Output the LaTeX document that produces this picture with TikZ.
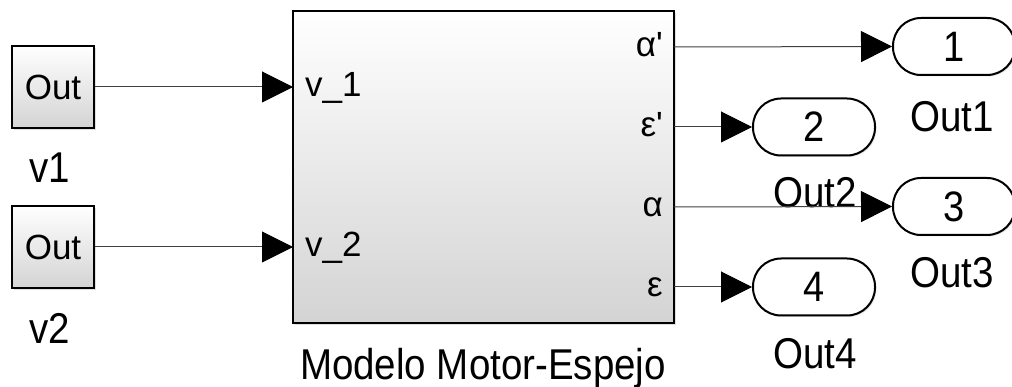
\documentclass[tikz,border=0pt]{standalone}
\usepackage{fontspec}
\setmainfont{Liberation Sans}
\usetikzlibrary{arrows.meta,shadows}
\newcommand{\vst}[1]{\scalebox{1}[1.12]{#1}}
\begin{document}
\begin{tikzpicture}[x=1pt,y=-1pt,
  blk/.style={draw=black,line width=2pt,top color=white,bottom color=black!17,inner sep=0pt,
    drop shadow={opacity=0.25,shadow xshift=2pt,shadow yshift=-2pt}},
  capblk/.style={draw=black,line width=2pt,fill=white,rounded corners=28pt,minimum width=122pt,minimum height=57pt,inner sep=0pt,
    font=\fontsize{38}{44}\selectfont,
    drop shadow={opacity=0.2,shadow xshift=1.5pt,shadow yshift=-1.5pt}},
  lbl/.style={inner sep=0pt,font=\fontsize{38.5}{44}\selectfont},
  plbl/.style={inner sep=0pt,font=\fontsize{35}{40}\selectfont},
  sig/.style={draw=black!75,line width=1pt,-{Triangle[length=31pt,width=31pt,color=black]}},
  ]
\useasboundingbox (0,0) rectangle (1012,387);
\clip (0,0) rectangle (1012,387);
% sources
\node[blk,minimum width=82pt,minimum height=82pt,font=\fontsize{35}{40}\selectfont] (s1) at (53,87) {Out};
\node[blk,minimum width=82pt,minimum height=82pt,font=\fontsize{35}{40}\selectfont] (s2) at (53,247) {Out};
\node[lbl,anchor=base] (ls1) at (50,183) {\vst{v1}};
\node[lbl,anchor=base] (ls2) at (50,343) {\vst{v2}};
% main block
\node[blk,minimum width=381pt,minimum height=312pt] (m) at (483.5,167) {};
\node[lbl,anchor=base] (lm) at (483,379) {\vst{Modelo Motor-Espejo}};
\coordinate (mi1) at (293,87);
\coordinate (mi2) at (293,247);
\coordinate (mo1) at (674,47);
\coordinate (mo2) at (674,127);
\coordinate (mo3) at (674,207);
\coordinate (mo4) at (674,287);
\node[plbl,anchor=base west] (pi1) at (305,97) {v\_1};
\node[plbl,anchor=base west] (pi2) at (305,257) {v\_2};
\node[plbl,anchor=base east] (po1) at (663,57) {α\textquotesingle};
\node[plbl,anchor=base east] (po2) at (663,137) {ε\textquotesingle};
\node[plbl,anchor=base east] (po3) at (663,217) {α};
\node[plbl,anchor=base east] (po4) at (663,297) {ε};
% outports
\node[capblk] (o1) at (954,46.5) {\vst{1}};
\node[capblk] (o2) at (814,127) {\vst{2}};
\node[capblk] (o3) at (954,206.5) {\vst{3}};
\node[capblk] (o4) at (814,287) {\vst{4}};
\node[lbl,anchor=base] (lo1) at (952,132) {\vst{Out1}};
\node[lbl,anchor=base] (lo2) at (815,208) {\vst{Out2}};
\node[lbl,anchor=base] (lo3) at (952,288) {\vst{Out3}};
\node[lbl,anchor=base] (lo4) at (815,368) {\vst{Out4}};
% connectors
\draw[sig] (s1.east) -- (mi1);
\draw[sig] (s2.east) -- (mi2);
\draw[sig] (mo1) -- (o1.west);
\draw[sig] (mo2) -- (o2.west);
\draw[sig] (mo3) -- (o3.west);
\draw[sig] (mo4) -- (o4.west);
\end{tikzpicture}
\end{document}
